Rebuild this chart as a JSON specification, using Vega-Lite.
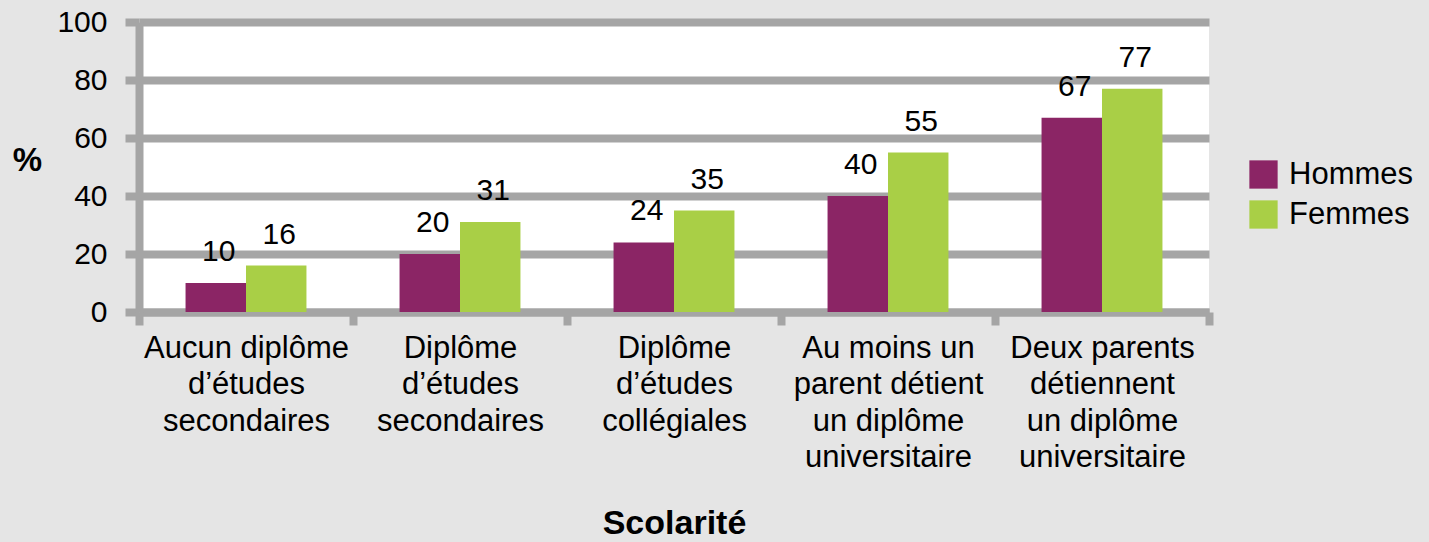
{
  "$schema": "https://vega.github.io/schema/vega-lite/v6.json",
  "width": 1070,
  "height": 290,
  "autosize": {"type": "none"},
  "padding": {"left": 139, "top": 22, "right": 220, "bottom": 230},
  "background": "#e5e5e5",
  "config": {"view": {"fill": "white", "stroke": null}, "font": "Liberation Sans"},
  "data": {
    "values": [
      {"cat": "Aucun diplôme|d’études|secondaires", "sexe": "Hommes", "pct": 10},
      {"cat": "Aucun diplôme|d’études|secondaires", "sexe": "Femmes", "pct": 16},
      {"cat": "Diplôme|d’études|secondaires", "sexe": "Hommes", "pct": 20},
      {"cat": "Diplôme|d’études|secondaires", "sexe": "Femmes", "pct": 31},
      {"cat": "Diplôme|d’études|collégiales", "sexe": "Hommes", "pct": 24},
      {"cat": "Diplôme|d’études|collégiales", "sexe": "Femmes", "pct": 35},
      {"cat": "Au moins un|parent détient|un diplôme|universitaire", "sexe": "Hommes", "pct": 40},
      {"cat": "Au moins un|parent détient|un diplôme|universitaire", "sexe": "Femmes", "pct": 55},
      {"cat": "Deux parents|détiennent|un diplôme|universitaire", "sexe": "Hommes", "pct": 67},
      {"cat": "Deux parents|détiennent|un diplôme|universitaire", "sexe": "Femmes", "pct": 77}
    ]
  },
  "encoding": {
    "x": {
      "field": "cat",
      "type": "nominal",
      "sort": null,
      "scale": {"paddingInner": 0, "paddingOuter": 0},
      "axis": {
        "labelExpr": "split(datum.label, '|')",
        "labelAngle": 0,
        "labelFontSize": 31,
        "labelLineHeight": 36.5,
        "labelLimit": 0,
        "labelPadding": 8,
        "labelColor": "black",
        "domainWidth": 8,
        "domainColor": "#a5a5a5",
        "tickColor": "#a5a5a5",
        "tickWidth": 8,
        "tickSize": 13,
        "tickBand": "extent",
        "grid": false,
        "title": "Scolarité",
        "titleFontSize": 34,
        "titleFontWeight": "bold",
        "titleColor": "black",
        "titleBaseline": "alphabetic",
        "titleY": 221
      }
    },
    "xOffset": {
      "field": "sexe",
      "type": "nominal",
      "sort": ["Hommes", "Femmes"],
      "scale": {"paddingInner": 0, "paddingOuter": 0.77}
    },
    "y": {
      "field": "pct",
      "type": "quantitative",
      "scale": {"domain": [0, 100], "nice": false},
      "axis": {
        "values": [0, 20, 40, 60, 80, 100],
        "labelFontSize": 30,
        "labelPadding": 18,
        "labelColor": "black",
        "domainWidth": 8,
        "domainColor": "#a5a5a5",
        "tickColor": "#a5a5a5",
        "tickWidth": 8,
        "tickSize": 14,
        "grid": true,
        "gridColor": "#a5a5a5",
        "gridWidth": 8,
        "title": "%",
        "titleAngle": 0,
        "titleFontSize": 33,
        "titleFontWeight": "bold",
        "titleColor": "black",
        "titleAlign": "center",
        "titleBaseline": "middle",
        "titleX": -112,
        "titleY": 138
      }
    }
  },
  "layer": [
    {
      "mark": {"type": "bar"},
      "encoding": {
        "color": {
          "field": "sexe",
          "type": "nominal",
          "scale": {"domain": ["Hommes", "Femmes"], "range": ["#8b2565", "#a9cf46"]},
          "legend": {
            "orient": "none",
            "legendX": 1109,
            "legendY": 137,
            "title": null,
            "symbolType": "square",
            "symbolSize": 800,
            "symbolStrokeWidth": 0,
            "labelFontSize": 31,
            "labelColor": "black",
            "labelOffset": 10,
            "rowPadding": 8,
            "padding": 0
          }
        }
      }
    },
    {
      "mark": {"type": "text", "dy": -22, "dx": 3, "baseline": "alphabetic", "fontSize": 30, "color": "black"},
      "encoding": {"text": {"field": "pct", "type": "quantitative"}}
    }
  ]
}
